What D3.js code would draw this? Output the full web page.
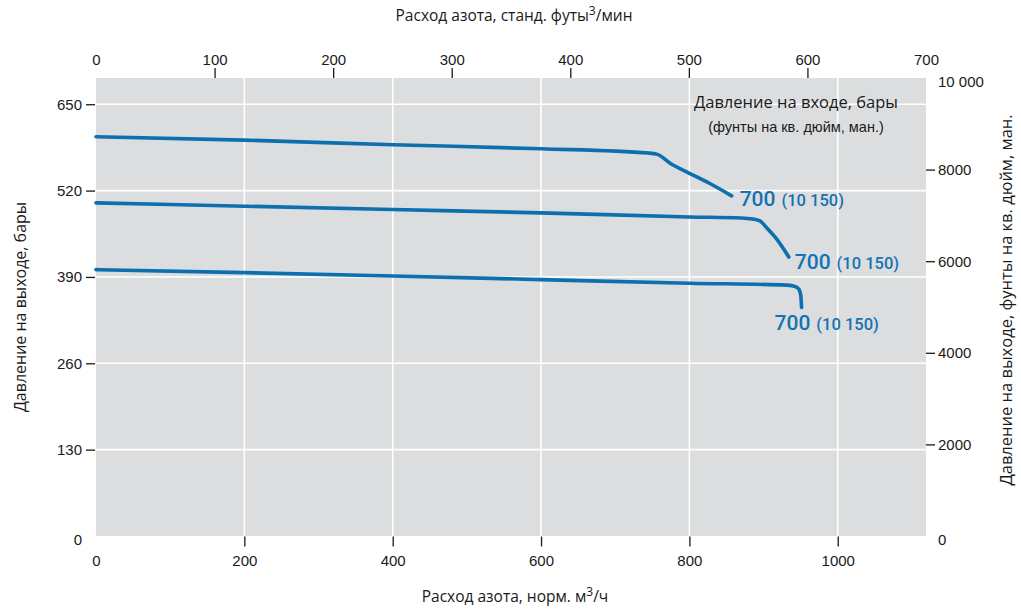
<!DOCTYPE html>
<html>
<head>
<meta charset="utf-8">
<script src="https://cdn.jsdelivr.net/npm/d3@7"></script>
<style>
  html, body { margin: 0; padding: 0; background: #ffffff; }
  svg { display: block; }
  .num { font-family: "Liberation Sans", Arial, Helvetica, sans-serif; font-size: 15px; fill: #1a1a1a; }
  .title { font-family: "Open Sans", "Noto Sans", sans-serif; font-size: 15.5px; fill: #1a1a1a; }
</style>
</head>
<body>
<svg id="chart" width="1021" height="611"></svg>
<script>
// Nitrogen flow (normal m³/h) versus outlet pressure (bar), one curve per inlet pressure
const seriesNames = ["700 (10 150) upper", "700 (10 150) middle", "700 (10 150) lower"];
const inletMain = ["700", "700", "700"];
const inletPsi = ["(10 150)", "(10 150)", "(10 150)"];

const flowUpper = [0, 200, 400, 600, 745, 757, 773, 800, 827, 857];
const barUpper  = [601, 596, 589, 583, 576.5, 574.5, 562, 546, 531, 512];

const flowMiddle = [0, 200, 400, 600, 800, 870, 885, 895, 905, 917, 934];
const barMiddle  = [501.5, 496.5, 491.5, 486.5, 480.3, 478.8, 477.2, 474.4, 463, 448, 420];

const flowLower = [0, 200, 400, 600, 800, 931, 940, 946, 949.3, 950.6, 951.2];
const barLower  = [401, 396.5, 391.5, 386, 380.5, 377.7, 376.3, 373.5, 367, 357, 344];

// Axis tick values
const flowTicksM3h = [0, 200, 400, 600, 800, 1000];
const flowTicksCfm = [0, 100, 200, 300, 400, 500, 600, 700];
const barTicks = [0, 130, 260, 390, 520, 650];
const psiTicks = [0, 2000, 4000, 6000, 8000, 10000];

// Axis titles
const titleTop = ["Расход азота, станд. футы", "3", "/мин"];
const titleBottom = ["Расход азота, норм. м", "3", "/ч"];
const titleLeft = "Давление на выходе, бары";
const titleRight = "Давление на выходе, фунты на кв. дюйм, ман.";
const legendTitle = "Давление на входе, бары";
const legendSub = "(фунты на кв. дюйм, ман.)";

// ---- layout ----
const svg = d3.select("#chart");
const plot = { left: 96, right: 926, top: 78, bottom: 536 };
const lineColor = "#0b6fb0";
const labelColor = "#1472b4";

const xM3h = d3.scaleLinear().domain([0, 1119]).range([plot.left, plot.right]);
const xCfm = d3.scaleLinear().domain([0, 700]).range([plot.left, plot.right]);
const yBar = d3.scaleLinear().domain([0, 689.5]).range([plot.bottom, plot.top]);
const yPsi = d3.scaleLinear().domain([0, 10000]).range([plot.bottom, plot.top]);

// plot background
svg.append("rect")
  .attr("x", plot.left).attr("y", plot.top)
  .attr("width", plot.right - plot.left).attr("height", plot.bottom - plot.top)
  .attr("fill", "#dcdddf");

// white grid
const grid = svg.append("g").attr("stroke", "#ffffff").attr("stroke-width", 1.6);
grid.selectAll("line.v").data(flowTicksM3h.filter(d => d > 0)).join("line")
  .attr("x1", d => xM3h(d)).attr("x2", d => xM3h(d))
  .attr("y1", plot.top).attr("y2", plot.bottom);
grid.selectAll("line.h").data(barTicks.filter(d => d > 0)).join("line")
  .attr("x1", plot.left).attr("x2", plot.right)
  .attr("y1", d => yBar(d)).attr("y2", d => yBar(d));

// axes
function styleAxis(g, hideEnds) {
  g.select(".domain").remove();
  g.selectAll(".tick line").attr("stroke", "#1a1a1a").attr("stroke-width", 1.3);
  g.selectAll(".tick text").attr("class", "num").attr("fill", "#1a1a1a");
  g.selectAll(".tick").filter(d => hideEnds.includes(d)).select("line").remove();
}

const axB = svg.append("g").attr("transform", `translate(0,${plot.bottom + 0.5})`)
  .call(d3.axisBottom(xM3h).tickValues(flowTicksM3h).tickSize(10).tickPadding(8.5).tickFormat(d3.format("d")))
  .attr("font-family", null).attr("font-size", null);
styleAxis(axB, [0]);

const axT = svg.append("g").attr("transform", `translate(0,${plot.top})`)
  .call(d3.axisTop(xCfm).tickValues(flowTicksCfm).tickSize(10).tickPadding(3).tickFormat(d3.format("d")))
  .attr("font-family", null).attr("font-size", null);
styleAxis(axT, [0, 700]);

const axL = svg.append("g").attr("transform", `translate(${plot.left - 1},0)`)
  .call(d3.axisLeft(yBar).tickValues(barTicks).tickSize(9).tickPadding(4).tickFormat(d3.format("d")))
  .attr("font-family", null).attr("font-size", null);
styleAxis(axL, [0]);
axL.selectAll(".tick").filter(d => d === 0).select("text").attr("dy", "0.55em");

const psiFormat = d => d >= 10000 ? d3.format(",")(d).replace(",", " ") : String(d);
const axR = svg.append("g").attr("transform", `translate(${plot.right},0)`)
  .call(d3.axisRight(yPsi).tickValues(psiTicks).tickSize(9).tickPadding(3).tickFormat(psiFormat))
  .attr("font-family", null).attr("font-size", null);
styleAxis(axR, [0, 10000]);
axR.selectAll(".tick").filter(d => d === 0 || d === 10000).select("text").attr("dy", "0.55em");

// curves
const series = [
  { flow: flowUpper, bar: barUpper, dx: 8, dy: 10 },
  { flow: flowMiddle, bar: barMiddle, dx: 6, dy: 12 },
  { flow: flowLower, bar: barLower, dx: -27, dy: 23 }
];
const line = d3.line()
  .x(d => xM3h(d[0])).y(d => yBar(d[1]))
  .curve(d3.curveMonotoneX);

series.forEach((s, i) => {
  const pts = s.flow.map((f, j) => [f, s.bar[j]]);
  svg.append("path")
    .datum(pts)
    .attr("d", line)
    .attr("fill", "none")
    .attr("stroke", lineColor)
    .attr("stroke-width", 3.6)
    .attr("stroke-linecap", "round")
    .attr("stroke-linejoin", "round")
    .attr("data-name", seriesNames[i]);

  const end = pts[pts.length - 1];
  const t = svg.append("text")
    .attr("x", xM3h(end[0]) + s.dx)
    .attr("y", yBar(end[1]) + s.dy)
    .attr("fill", labelColor)
    .attr("font-family", "Roboto, 'Liberation Sans', Arial, sans-serif");
  t.append("tspan").attr("font-size", 21).attr("font-weight", 500).text(inletMain[i]);
  t.append("tspan").attr("dx", 6).attr("font-size", 16.5).attr("font-weight", 500).text(inletPsi[i]);
});

// legend heading inside the plot
svg.append("text").attr("class", "title")
  .attr("x", 796).attr("y", 108).attr("text-anchor", "middle")
  .style("font-size", "16.5px").text(legendTitle);
svg.append("text")
  .attr("x", 796).attr("y", 131.5).attr("text-anchor", "middle")
  .attr("font-family", "'Liberation Sans', Arial, sans-serif")
  .attr("font-size", 14.5).attr("fill", "#1a1a1a").text(legendSub);

// axis titles with superscript
function supTitle(x, y, parts) {
  const t = svg.append("text").attr("class", "title")
    .attr("x", x).attr("y", y).attr("text-anchor", "middle");
  t.append("tspan").text(parts[0]);
  t.append("tspan").attr("dy", -6).style("font-size", "12px").text(parts[1]);
  t.append("tspan").attr("dy", 6).text(parts[2]);
}
supTitle(514, 21, titleTop);
supTitle(515, 602, titleBottom);

svg.append("text").attr("class", "title").style("font-size", "16px")
  .attr("transform", `translate(26,${(plot.top + plot.bottom) / 2}) rotate(-90)`)
  .attr("text-anchor", "middle").text(titleLeft);
svg.append("text").attr("class", "title").style("font-size", "16.5px")
  .attr("transform", `translate(1012,300) rotate(-90)`)
  .attr("text-anchor", "middle").text(titleRight);
</script>
</body>
</html>
